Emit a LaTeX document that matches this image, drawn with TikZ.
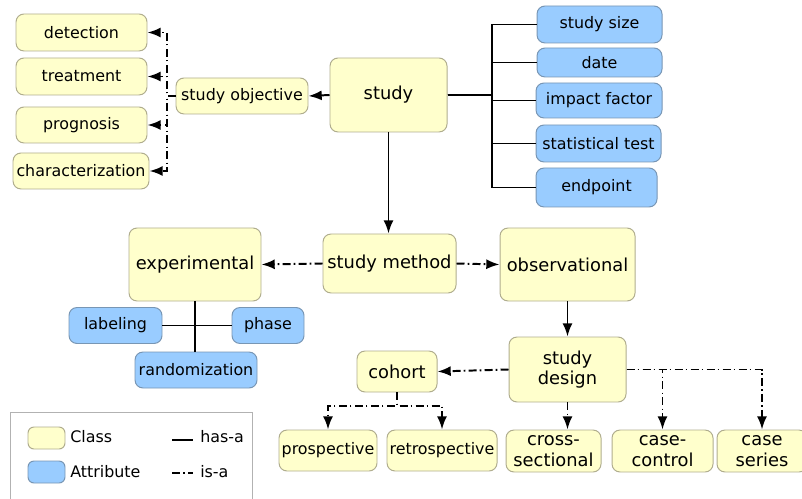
\documentclass[tikz,border=0pt]{standalone}
\usepackage{fontspec}
\setmainfont{DejaVu Sans}
\usetikzlibrary{arrows.meta, calc}
\definecolor{classfill}{HTML}{FFFFCC}
\definecolor{classdraw}{HTML}{B0AD8E}
\definecolor{attrfill}{HTML}{99CCFF}
\definecolor{attrdraw}{HTML}{7896B4}
\tikzset{
	box/.style={rounded corners=2mm, line width=0.7pt, inner sep=0pt, align=center,
		font=\fontsize{11.3}{13.5}\selectfont},
	cls/.style={box, fill=classfill, draw=classdraw},
	attr/.style={box, fill=attrfill, draw=attrdraw},
	big/.style={font=\fontsize{12.7}{14.5}\selectfont},
	wh/.style 2 args={minimum width=#1*0.25mm, minimum height=#2*0.25mm},
	hasa/.style={line width=1.4pt},
	isa/.style={line width=1.4pt, dash pattern=on 2mm off 0.8mm on 0.4mm off 0.8mm},
	tip/.style={-{Latex[length=3.3mm,width=2.5mm]}},
	keytext/.style={anchor=west, inner sep=0pt, font=\fontsize{11.3}{13.5}\selectfont}
}

\begin{document}
\begin{tikzpicture}[x=0.25mm, y=-0.25mm]
		\useasboundingbox (0,0) rectangle (802,499);
		
		\node[cls, big, wh={117}{74}]	(study)		at (388.5,95)	{study};
		
		% study objective and its kinds
		\node[cls, wh={132}{36}]	(objective)	at (242,96)	{study objective};
		\node[cls, wh={131}{37}]	(detection)	at (81.5,32.5)	{detection};
		\node[cls, wh={131}{37}]	(treatment)	at (81.5,76.5)	{treatment};
		\node[cls, wh={131}{36}]	(prognosis)	at (81.5,125)	{prognosis};
		\node[cls, wh={136}{36}]	(characterization) at (81,171)	{characterization};
		\coordinate (obus) at (167,96);
		\draw[hasa,tip] (study.west) -- (objective.east);
		\foreach \kind in {detection, treatment, prognosis, characterization}
			\draw[isa,tip] (objective.west) -- (obus) |- (\kind.east);
		
		% attributes of study
		\node[attr, wh={125}{37}]	(size)		at (599.5,24.5)	{study size};
		\node[attr, wh={125}{29}]	(date)		at (599.5,62.5)	{date};
		\node[attr, wh={126}{35}]	(impact)	at (599,100.5)	{impact factor};
		\node[attr, wh={125}{37}]	(stattest)	at (598.5,143.5) {statistical test};
		\node[attr, wh={121}{39}]	(endpoint)	at (596.5,187.5) {endpoint};
		\coordinate (sbus) at (492,95);
		\foreach \attr in {size, date, impact, stattest, endpoint}
			\draw[hasa] (study.east) -- (sbus) |- (\attr.west);
		
		\node[cls, big, wh={133}{59}]	(method)	at (389.5,263.5) {study method};
		\node[cls, big, wh={132}{73}]	(experimental)	at (195,264.5)	{experimental};
		\node[cls, big, wh={135}{73}]	(observational)	at (567.5,264.5) {observational};
		\draw[hasa,tip] (study.south) -- (study.south |- method.north);
		\draw[isa,tip] (method.west) -- (experimental.east);
		\draw[isa,tip] (method.east) -- (observational.west);
		
		% attributes of experimental
		\node[attr, wh={93}{36}]	(labeling)	at (115.5,325.5) {labeling};
		\node[attr, wh={72}{36}]	(phase)		at (268,325.5)	{phase};
		\node[attr, wh={122}{36}]	(randomization)	at (196,370)	{randomization};
		\coordinate (ebus) at (experimental.south |- labeling.east);
		\draw[hasa] (experimental.south) -- (ebus) -- (ebus |- randomization.north);
		\draw[hasa] (labeling.east) -- (phase.west);
		
		% study design
		\node[cls, big, wh={117}{65}]	(design)	at (567.5,369.5) {study\\design};
		\node[cls, big, wh={80}{41}]	(cohort)	at (397,371.5)	{cohort};
		\node[cls, wh={98}{41}]		(prospective)	at (328,450.5)	{prospective};
		\node[cls, wh={110}{41}]	(retrospective)	at (442,450.5)	{retrospective};
		\node[cls, big, wh={95}{42}]	(crosssec)	at (553.5,451)	{cross-\\sectional};
		\node[cls, big, wh={101}{42}]	(casecontrol)	at (662.5,451)	{case-\\control};
		\node[cls, big, wh={90}{42}]	(caseseries)	at (762,451)	{case\\series};
		\draw[hasa,tip] (observational.south) -- (design.north);
		\draw[isa,tip] (design.west) -- (cohort.east);
		\draw[isa,tip] (design.south) -- (design.south |- crosssec.north);
		\draw[isa,tip] (design.east) -| (casecontrol.north);
		\draw[isa,tip] (design.east) -| (caseseries.north);
		\coordinate (cbus) at (397,406);
		\draw[isa,tip] (cohort.south) -- (cbus) -| (prospective.north);
		\draw[isa,tip] (cohort.south) -- (cbus) -| (retrospective.north);
		
		% legend
		\draw[gray!60, line width=0.7pt] (10,506) |- (252,412) -- (252,506);
		\node[cls, wh={37}{22}, rounded corners=1.5mm] (classkey) at (46.5,438) {};
		\node[attr, wh={37}{22}, rounded corners=1.5mm] (attrkey) at (46.5,472) {};
		\node[keytext] (classtext) at (70,437) {Class};
		\node[keytext] (attrtext) at (70,472) {Attribute};
		\coordinate (hasa1) at (172,440); \coordinate (hasa2) at (193,440);
		\coordinate (isa1) at (172,473); \coordinate (isa2) at (193,473);
		\draw[hasa] (hasa1) -- (hasa2);
		\draw[isa] (isa1) -- (isa2);
		\node[keytext] (hasatext) at (200,437) {has-a};
		\node[keytext] (isatext) at (200,472) {is-a};
		
\end{tikzpicture}
\end{document}
